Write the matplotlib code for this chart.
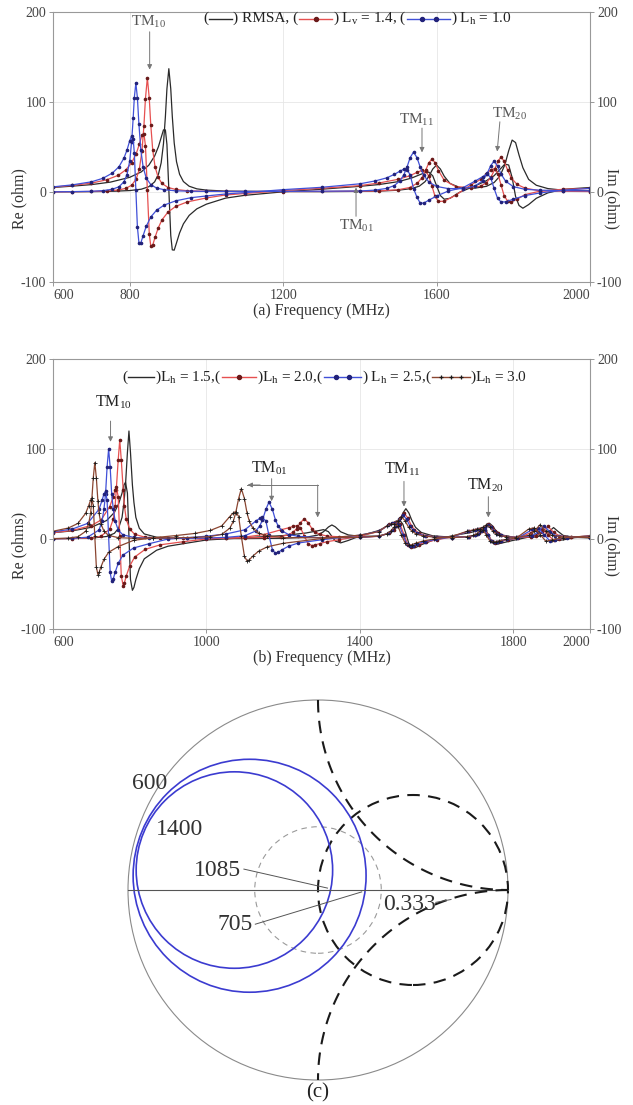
import numpy as np
import matplotlib
matplotlib.use("Agg")
import matplotlib.pyplot as plt
from matplotlib.patches import Circle
from matplotlib.lines import Line2D
from matplotlib.offsetbox import TextArea, DrawingArea, HPacker, AnchoredOffsetbox

plt.rcParams["font.family"] = "Liberation Serif"
plt.rcParams["mathtext.fontset"] = "custom"
plt.rcParams["mathtext.rm"] = "Liberation Serif"
plt.rcParams["mathtext.it"] = "Liberation Serif:italic"
plt.rcParams["axes.unicode_minus"] = False

# ---------------- (a) RMSA vs slot loaded patches ----------------
freq_rmsa = [600, 650, 700, 750, 800, 830, 850, 865, 875, 882, 888, 893, 897, 902, 907,
             911, 916, 922, 930, 940, 955, 975, 1000, 1050, 1100, 1200, 1300, 1400, 1450, 1500,
             1535, 1555, 1570, 1580, 1590, 1600, 1610, 1620, 1635, 1660, 1700, 1730, 1750, 1765, 1778,
             1788, 1797, 1806, 1815, 1825, 1840, 1860, 1890, 1930, 2000]
re_rmsa = [0.2, 0.3, 0.4, 0.7, 1.6, 3.1, 5.9, 11.3, 19.9, 32.4, 53.6, 83.6, 114.5, 137.0, 114.7,
           84.0, 54.5, 33.7, 19.7, 11.6, 6.4, 3.5, 2.1, 1.0, 0.8, 0.5, 0.4, 0.7, 1.0, 2.0,
           3.8, 6.5, 11.5, 17.5, 25.5, 30.0, 25.5, 17.5, 9.5, 5.0, 4.3, 6.3, 10.5, 17.6, 30.2,
           45.8, 57.7, 54.9, 41.0, 27.0, 14.0, 7.5, 3.8, 2.0, 1.2]
im_rmsa = [5.0, 6.5, 8.2, 11.0, 16.3, 22.3, 29.9, 40.0, 50.5, 60.5, 69.0, 69.0, 53.0, 2.4, -48.3,
           -64.3, -64.6, -56.5, -45.5, -35.4, -26.0, -18.7, -13.5, -6.8, -3.7, 0.2, 3.1, 6.3, 8.3, 11.5,
           15.5, 19.0, 21.5, 22.0, 18.0, 7.0, -4.0, -8.0, -7.0, -0.3, 6.7, 12.6, 18.1, 25.0, 31.0,
           30.0, 16.0, -5.0, -15.0, -18.0, -14.0, -7.0, -1.0, 3.0, 5.0]

freq_lv14 = [600, 650, 700, 740, 770, 790, 805, 817, 825, 832, 837, 841, 846, 851, 855,
             860, 866, 874, 884, 900, 920, 950, 1000, 1050, 1100, 1200, 1300, 1400, 1450, 1500,
             1530, 1550, 1562, 1572, 1580, 1588, 1596, 1605, 1620, 1650, 1690, 1715, 1730, 1742, 1752,
             1760, 1768, 1776, 1785, 1795, 1810, 1830, 1870, 1930, 2000]
re_lv14 = [0.2, 0.3, 0.6, 1.1, 2.2, 4.1, 7.5, 14.5, 25.2, 45.6, 73.3, 103.7, 127.0, 104.0, 73.9,
           46.6, 28.2, 16.4, 9.5, 5.0, 2.8, 1.4, 0.7, 0.6, 0.5, 0.5, 0.6, 0.9, 1.2, 2.5,
           5.0, 9.8, 16.0, 24.6, 32.6, 36.6, 32.7, 23.8, 13.0, 6.0, 4.7, 6.5, 10.3, 16.5, 25.7,
           34.3, 38.7, 34.3, 24.6, 15.4, 8.4, 4.4, 1.2, 0.8, 0.5]
im_lv14 = [5.4, 7.3, 9.8, 13.6, 18.5, 24.7, 32.4, 42.6, 53.0, 63.3, 65.0, 51.5, 2.3, -46.7, -60.3,
           -58.9, -50.5, -40.3, -31.0, -22.2, -16.0, -11.0, -6.6, -3.3, -1.7, 1.6, 4.1, 7.1, 10.0, 14.1,
           18.0, 22.0, 24.0, 23.2, 17.6, 6.5, -4.8, -10.5, -10.2, -3.5, 8.0, 14.0, 20.0, 25.0, 26.0,
           20.0, 8.0, -4.0, -10.0, -11.0, -8.0, -3.0, 1.0, 3.0, 4.0]

freq_lh10 = [600, 650, 700, 730, 755, 772, 785, 793, 800, 805, 809, 812, 816, 820, 824,
             829, 835, 843, 855, 870, 890, 920, 960, 1000, 1050, 1100, 1200, 1300, 1400, 1440,
             1470, 1490, 1505, 1515, 1523, 1531, 1540, 1549, 1557, 1566, 1580, 1600, 1630, 1670, 1700,
             1720, 1732, 1741, 1750, 1759, 1768, 1780, 1800, 1830, 1870, 1930, 2000]
re_lh10 = [0.2, 0.4, 0.8, 1.5, 3.1, 5.8, 11.4, 19.4, 34.5, 55.5, 82.0, 104.9, 121.0, 105.0, 75.3,
           46.6, 27.6, 15.6, 8.1, 4.4, 2.5, 1.3, 0.9, 0.7, 0.6, 0.6, 0.7, 0.9, 1.1, 2.1,
           4.0, 7.2, 12.6, 19.4, 27.8, 38.1, 44.4, 38.1, 28.1, 19.0, 11.0, 6.2, 3.8, 3.7, 6.5,
           12.5, 20.7, 29.2, 34.4, 28.7, 20.0, 12.0, 6.0, 3.0, 2.0, 1.5, 1.2]
im_lh10 = [5.7, 7.9, 11.3, 15.2, 21.1, 28.1, 37.7, 46.7, 57.0, 62.6, 59.0, 43.5, 2.4, -38.6, -56.3,
           -56.5, -48.4, -38.2, -27.7, -20.2, -14.5, -9.8, -6.3, -4.4, -2.2, -0.7, 2.6, 5.2, 9.1, 12.3,
           15.7, 19.6, 23.3, 25.4, 24.8, 19.2, 3.8, -6.0, -12.0, -12.5, -9.0, -4.5, 1.0, 5.0, 12.0,
           17.0, 20.0, 16.0, 4.0, -7.0, -11.0, -11.0, -8.0, -4.0, -1.0, 2.0, 4.0]

# ---------------- (b) horizontal slot length sweep ----------------
freq_h15 = [600, 650, 700, 740, 760, 771, 780, 785, 789, 794, 798, 802, 807, 811, 816,
            825, 838, 870, 900, 950, 1000, 1100, 1200, 1260, 1290, 1305, 1318, 1327, 1336, 1350,
            1370, 1400, 1450, 1480, 1495, 1505, 1512, 1520, 1528, 1535, 1545, 1560, 1590, 1640, 1690,
            1710, 1722, 1730, 1738, 1746, 1755, 1770, 1800, 1850, 1880, 1895, 1905, 1915, 1930, 1960, 2000]
re_h15 = [0.3, 0.5, 1.0, 2.8, 6.3, 12, 24, 40.6, 60, 96, 120, 96, 60, 40.6, 24,
          12, 5.6, 2.0, 1.1, 0.6, 0.5, 0.5, 0.8, 2.0, 4.3, 8.0, 13.3, 15.6, 13.5, 8.0,
          4.5, 3.0, 3.2, 6.8, 12.7, 21, 28.7, 33.7, 28.8, 21.2, 13, 7.3, 3.5, 2.0, 2.8,
          5.3, 9.6, 14.5, 17.5, 14.5, 9.0, 4.5, 2.0, 1.8, 4.0, 9.0, 12.7, 9.0, 4.0, 1.8, 1.2]
im_h15 = [7, 9, 13, 20.6, 29.5, 39, 51, 60, 63, 51, 3, -45, -57, -53.8, -45,
          -33, -22, -12.5, -8, -4.5, -1.1, 1.4, 3.8, 6.7, 9.1, 10.4, 8.2, 2.9, -2.3, -4.3,
          -1.6, 3.4, 9.5, 16.5, 20, 20.5, 16.5, 6, -5.5, -9.8, -9.6, -6.4, -1.5, 3.5, 7.3,
          9.8, 10.8, 8.8, 2.3, -4.2, -6, -4.5, -1.5, 3, 8.5, 9, 4, -1.5, -1, 1.5, 3]

freq_h20 = [600, 650, 700, 725, 748, 757, 762, 765, 770, 774, 778, 783, 786, 791, 800,
            813, 840, 880, 940, 1000, 1050, 1100, 1150, 1195, 1215, 1227, 1235, 1245, 1255, 1265,
            1275, 1283, 1295, 1315, 1345, 1400, 1450, 1477, 1488, 1496, 1505, 1515, 1525, 1534, 1542,
            1553, 1572, 1600, 1640, 1684, 1701, 1711, 1718, 1727, 1735, 1744, 1752, 1759, 1769, 1786,
            1811, 1845, 1860, 1875, 1890, 1905, 1920, 1950, 2000]
re_h20 = [0.2, 0.5, 1.3, 3.1, 11, 22, 37, 55, 88, 110, 88, 55, 37, 22, 11,
          5.2, 2, 0.9, 0.6, 0.8, 1, 1.2, 1.6, 2.7, 4.9, 7.9, 11.5, 18.1, 22.5, 18.2,
          11.6, 8.1, 5.2, 3.2, 2.5, 1.8, 3, 6.6, 10.5, 15, 23.4, 29, 23.4, 15, 10.5,
          6.6, 3.8, 2.3, 1.5, 2.6, 4.2, 6.4, 9, 13.8, 17, 13.8, 9, 6.4, 4.2, 2.6,
          1.8, 2.3, 3.6, 7.5, 14, 7.5, 3.6, 2.3, 1.8]
im_h20 = [7, 9.5, 15, 21, 36, 47, 55, 58, 47, 3, -41, -52, -49, -41, -30,
          -20, -11.6, -6.4, -3, 0, 1, 2.1, 5, 10.3, 12.5, 14.1, 14.7, 12.5, 3.7, -5.1,
          -7.3, -6.7, -5.1, -2.9, -0.9, 3, 8.5, 16.2, 18.2, 19, 16.2, 5, -6.2, -9, -8.2,
          -6.2, -3.4, -0.9, 2.3, 8.8, 10.4, 11.6, 12, 10.4, 4, -2.4, -4, -3.6, -2.4, -0.8,
          0.6, 7, 10.2, 11.5, 5, -1.5, -0.2, 1.9, 3.5]

freq_h25 = [600, 650, 690, 720, 728, 733, 737, 741, 745, 749, 753, 757, 762, 770, 782,
            810, 850, 900, 950, 1000, 1050, 1100, 1129, 1139, 1146, 1155, 1163, 1172, 1180, 1187,
            1197, 1214, 1240, 1300, 1400, 1450, 1474, 1485, 1493, 1503, 1512, 1522, 1531, 1539, 1550,
            1569, 1598, 1640, 1682, 1699, 1709, 1716, 1725, 1733, 1742, 1750, 1757, 1767, 1784, 1810,
            1850, 1865, 1880, 1895, 1910, 1940, 2000]
re_h25 = [0.3, 0.7, 2, 10, 20, 33.8, 50, 80, 100, 80, 50, 33.8, 20, 10, 4.7,
          1.8, 0.8, 0.6, 0.8, 1, 1.8, 3.6, 9, 14.5, 21, 33, 41, 33, 21, 14.5,
          9, 5, 2.9, 1.3, 1.7, 3.2, 6.2, 9.8, 14, 21.8, 27, 21.8, 14, 9.8, 6.2,
          3.6, 2.2, 1.5, 2.5, 4, 6.1, 8.5, 13, 16, 13, 8.5, 6.1, 4, 2.5, 1.7,
          3.8, 8, 15, 8, 3.8, 2.4, 1.6]
im_h25 = [8, 11, 17.3, 33, 43, 50.3, 53, 43, 3, -37, -47, -44.3, -37, -27, -18,
          -10, -5.3, 0, 1.4, 3.1, 5.5, 10.2, 20, 22.9, 24, 20, 4, -12, -16, -14.9,
          -12, -8, -4.4, -0.9, 4.3, 8.5, 15.4, 17.3, 18, 15.4, 5, -5.4, -8, -7.3, -5.4,
          -2.8, -0.5, 2.4, 8.5, 10, 11.1, 11.5, 10, 4, -2, -3.5, -3.1, -2, -0.5, 0.8,
          10.6, 12, 5, -2, -0.6, 1.6, 3.4]

freq_h30 = [600, 640, 665, 685, 693, 698, 701, 705, 709, 713, 717, 720, 725, 733, 745,
            770, 810, 860, 920, 970, 1010, 1040, 1061, 1070, 1076, 1084, 1091, 1099, 1106, 1112,
            1121, 1136, 1159, 1200, 1300, 1400, 1450, 1470, 1481, 1489, 1499, 1508, 1518, 1527, 1535,
            1546, 1565, 1594, 1640, 1679, 1696, 1706, 1713, 1722, 1730, 1739, 1747, 1754, 1764, 1781,
            1807, 1840, 1855, 1870, 1885, 1900, 1930, 2000]
re_h30 = [0.4, 1, 2.5, 8.5, 17, 28.7, 42.5, 68, 85, 68, 42.5, 28.7, 17, 8.5, 4,
          1.5, 0.8, 0.9, 1.2, 1.8, 2.7, 5.2, 12, 19.6, 28.5, 45, 56, 45, 28.5, 19.6,
          12, 6.5, 3.6, 1.5, 1.3, 1.8, 3.3, 5.8, 9.1, 13, 20.2, 25, 20.2, 13, 9.1,
          5.8, 3.4, 2.1, 1.5, 2.5, 4, 6.1, 8.5, 13, 16, 13, 8.5, 6.1, 4, 2.5,
          1.7, 4, 8.5, 16, 8.5, 4, 2.5, 1.6]
im_h30 = [8.6, 12.2, 17.3, 28.5, 37, 43.2, 45.5, 37, 3, -31, -39.5, -37.2, -31, -22.5, -14.8,
          -8.4, -1.5, 1.3, 3.8, 6.2, 9.5, 14.6, 25, 29, 30.5, 25, 3, -19, -24.5, -23,
          -19, -13.5, -8.6, -4.8, 0.5, 4.3, 8.3, 14.6, 16.4, 17, 14.6, 5, -4.6, -7, -6.4,
          -4.6, -2.2, 0, 2.9, 8.5, 10, 11.1, 11.5, 10, 4, -2, -3.5, -3.1, -2, -0.5,
          0.8, 11, 12.5, 5, -2.5, -1, 1.4, 3.5]

# ---------------- (c) Smith chart loci ----------------
locus_center_x = [-0.36, -0.44]
locus_center_y = [0.075, 0.105]
locus_radius = [0.613, 0.517]
freq_marks = ["600", "1400", "1085", "705"]
vswr_gamma = 0.333

BLACK = "#2a2a2a"
RED = "#e65050"
BLUE = "#4050d8"
BROWN = "#8a4530"

sty_plain = dict(color=BLACK, lw=0.9)
sty_red = dict(color=RED, lw=0.9, marker="o", ms=1.6, mfc="#6a1a1a", mec="#6a1a1a")
sty_blue = dict(color=BLUE, lw=0.9, marker="o", ms=1.6, mfc="#22227a", mec="#22227a")
sty_brown = dict(color=BROWN, lw=0.9, marker="+", ms=2.6, mew=0.6, mec="#1a1a1a")

fig = plt.figure(figsize=(6.33, 11.05), dpi=100)
W, H = 633.0, 1105.0
ax_a = fig.add_axes([53 / W, 1 - 282 / H, 537 / W, 270 / H])
ax_b = fig.add_axes([53 / W, 1 - 629 / H, 537 / W, 270 / H])


def style_axes(ax, xticks, ylab, xlab):
    ax.set_xlim(600, 2000)
    ax.set_ylim(-100, 200)
    ax.set_xticks(xticks)
    ax.set_yticks([-100, 0, 100, 200])
    ax.grid(True, color="#e6e6e6", lw=0.6)
    ax.set_axisbelow(True)
    ax.tick_params(direction="out", length=3, width=0.6, color="#888",
                   labelsize=10, labelcolor="#444", pad=2)
    for s in ax.spines.values():
        s.set_color("#999")
        s.set_linewidth(0.8)
    labs = ax.get_xticklabels()
    labs[0].set_ha("left")
    labs[-1].set_ha("right")
    ax.set_ylabel(ylab, fontsize=11.5, color="#333")
    ax.yaxis.set_label_coords(-0.047, 0.31)
    ax.set_xlabel(xlab, fontsize=11.5, color="#333", va="center")
    ax.xaxis.set_label_coords(0.5, -29 / 270)
    axr = ax.twinx()
    axr.set_ylim(-100, 200)
    axr.set_yticks([-100, 0, 100, 200])
    axr.tick_params(direction="out", length=3, width=0.6, color="#888",
                    labelsize=10, labelcolor="#444", pad=2)
    for s in axr.spines.values():
        s.set_visible(False)
    axr.set_ylabel("Im (ohm)", fontsize=11.5, color="#333", rotation=270, va="center")
    axr.yaxis.set_label_coords(1.041, 0.31)


def sample(color, width, marker=None, mcol=None, nmark=0):
    da = DrawingArea(width, 8, 0, 0)
    da.add_artist(Line2D([0.5, width - 0.5], [4, 4], color=color, lw=1.0))
    if marker:
        xs = np.linspace(0, width, nmark + 2)[1:-1]
        da.add_artist(Line2D(xs, [4] * len(xs), ls="none", marker=marker,
                             ms=3, color=mcol, mew=0.9))
    return da


def legend_row(ax, parts, xf, yf, fs):
    kids = []
    for p in parts:
        if isinstance(p, str):
            kids.append(TextArea(p, textprops=dict(fontsize=fs, color="#222")))
        else:
            kids.append(p)
    box = HPacker(children=kids, align="center", pad=0, sep=0)
    ab = AnchoredOffsetbox(loc="center", child=box, pad=0, borderpad=0, frameon=False,
                           bbox_to_anchor=(xf, yf), bbox_transform=ax.transAxes)
    ax.add_artist(ab)


def mode_label(ax, txt, xy_text, tail, tip, color, fs=11):
    ax.text(xy_text[0], xy_text[1], txt, ha="center", va="center", fontsize=fs, color=color)
    ax.annotate("", xy=tip, xytext=tail,
                arrowprops=dict(arrowstyle="-|>", color="#777", lw=0.7,
                                mutation_scale=7, shrinkA=0, shrinkB=0))


# ---- panel (a)
for f, r, i, st in [(freq_rmsa, re_rmsa, im_rmsa, sty_plain),
                    (freq_lv14, re_lv14, im_lv14, sty_red),
                    (freq_lh10, re_lh10, im_lh10, sty_blue)]:
    ax_a.plot(f, r, **st)
    ax_a.plot(f, i, **st)
style_axes(ax_a, [600, 800, 1200, 1600, 2000], "Re (ohm)", "(a) Frequency (MHz)")

legend_row(ax_a, ["(", sample(BLACK, 18), ") RMSA, (", sample(RED, 25, "o", "#6a1a1a", 1),
                  ") L$_\\mathrm{v}$ = 1.4, (", sample(BLUE, 32, "o", "#22227a", 2),
                  ") L$_\\mathrm{h}$ = 1.0"], 0.567, 0.975, 11)

mode_label(ax_a, "TM$_{10}$", (850, 189), (852, 178), (852, 136), "#555")
mode_label(ax_a, "TM$_{11}$", (1549, 80), (1562, 71), (1562, 44), "#555")
mode_label(ax_a, "TM$_{20}$", (1791, 87), (1765, 78), (1758, 45), "#555")
mode_label(ax_a, "TM$_{01}$", (1392, -38), (1390, -27), (1390, 5), "#555")

# ---- panel (b)
for f, r, i, st in [(freq_h15, re_h15, im_h15, sty_plain),
                    (freq_h20, re_h20, im_h20, sty_red),
                    (freq_h25, re_h25, im_h25, sty_blue),
                    (freq_h30, re_h30, im_h30, sty_brown)]:
    ax_b.plot(f, r, **st)
    ax_b.plot(f, i, **st)
style_axes(ax_b, [600, 1000, 1400, 1800, 2000], "Re (ohms)", "(b) Frequency (MHz)")

legend_row(ax_b, ["(", sample(BLACK, 20), ")L$_\\mathrm{h}$ = 1.5,(",
                  sample(RED, 26, "o", "#6a1a1a", 1), ")L$_\\mathrm{h}$ = 2.0,(",
                  sample(BLUE, 28, "o", "#22227a", 2), ") L$_\\mathrm{h}$ = 2.5,(",
                  sample(BROWN, 28, "+", "#1a1a1a", 3), ")L$_\\mathrm{h}$ = 3.0"],
           0.506, 0.933, 11)

mode_label(ax_b, "TM$_{10}$", (758, 152), (750, 131), (750, 108), "#222", 11.5)
mode_label(ax_b, "TM$_{01}$", (1165, 79), (1170, 67), (1170, 42), "#222", 11.5)
mode_label(ax_b, "TM$_{11}$", (1510, 77), (1515, 64), (1515, 36), "#222", 11.5)
mode_label(ax_b, "TM$_{20}$", (1727, 60), (1735, 47), (1735, 24), "#222", 11.5)
ax_b.plot([1107, 1290], [60, 60], color="#777", lw=0.7)
ax_b.annotate("", xy=(1107, 60), xytext=(1140, 60),
              arrowprops=dict(arrowstyle="-|>", color="#777", lw=0.7, mutation_scale=7,
                              shrinkA=0, shrinkB=0))
ax_b.annotate("", xy=(1290, 24), xytext=(1290, 60),
              arrowprops=dict(arrowstyle="-|>", color="#777", lw=0.7, mutation_scale=7,
                              shrinkA=0, shrinkB=0))

# ---- panel (c) Smith chart
lim = 1.12
side = 190 * 2 * lim
ax_c = fig.add_axes([(318 - side / 2) / W, 1 - (890 + side / 2) / H, side / W, side / H])
ax_c.set_xlim(-lim, lim)
ax_c.set_ylim(-lim, lim)
ax_c.set_aspect("equal")
ax_c.axis("off")

ax_c.add_patch(Circle((0, 0), 1.0, fill=False, ec="#8a8a8a", lw=0.8))
ax_c.plot([-1, 1], [0, 0], color="#555", lw=0.8)
dash = dict(color="#1a1a1a", lw=1.5, ls=(0, (6, 4)))
ax_c.add_patch(Circle((0.5, 0), 0.5, fill=False, ec="#1a1a1a", lw=1.5, ls=(0, (6, 4))))
th = np.linspace(np.pi, 1.5 * np.pi, 120)
ax_c.plot(1 + np.cos(th), 1 + np.sin(th), **dash)
th = np.linspace(0.5 * np.pi, np.pi, 120)
ax_c.plot(1 + np.cos(th), -1 + np.sin(th), **dash)
ax_c.add_patch(Circle((0, 0), vswr_gamma, fill=False, ec="#9a9a9a", lw=0.8, ls=(0, (5, 4))))

for cx, cy, rr in zip(locus_center_x, locus_center_y, locus_radius):
    ax_c.add_patch(Circle((cx, cy), rr, fill=False, ec="#3b3bd0", lw=1.2))

tk = dict(fontsize=17, color="#333", ha="center", va="center")
ax_c.text(-0.884, 0.563, freq_marks[0], **tk)
ax_c.text(-0.73, 0.32, freq_marks[1], **tk)
ax_c.text(-0.53, 0.105, freq_marks[2], **tk)
ax_c.text(-0.437, -0.184, freq_marks[3], **tk)
ax_c.plot([-0.39, 0.05], [0.11, 0.01], color="#555", lw=0.7)
ax_c.plot([-0.33, 0.23], [-0.18, -0.01], color="#555", lw=0.7)
ax_c.text(0.48, -0.074, "%.3f" % vswr_gamma, **tk)
ax_c.plot([0.62, 0.70], [-0.065, -0.05], color="#555", lw=0.7)
ax_c.text(0, -1.068, "(c)", fontsize=15, color="#222", ha="center", va="center")

fig.savefig("out.png", dpi=100)
